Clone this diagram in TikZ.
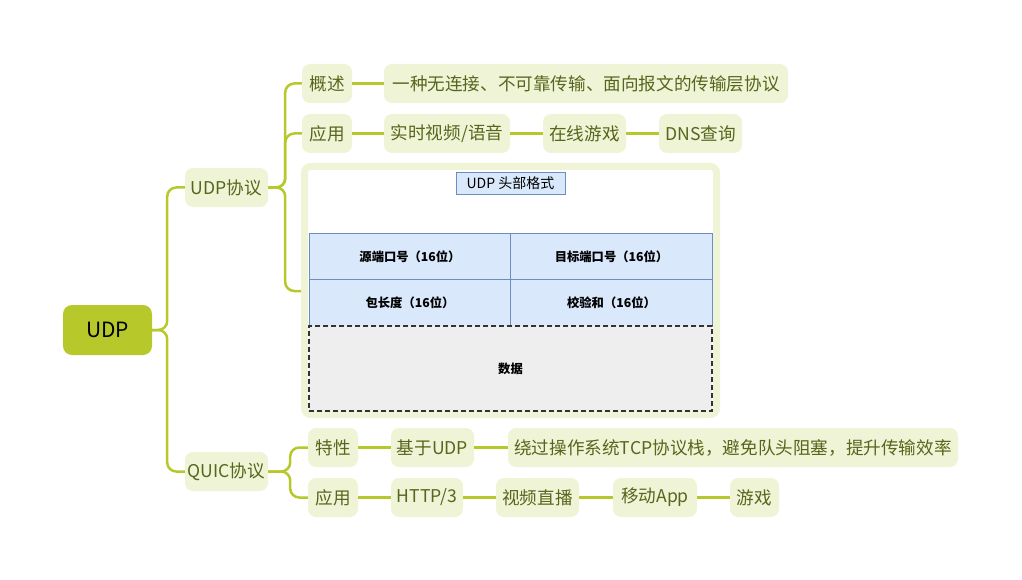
\documentclass[tikz,border=0pt]{standalone}
\usepackage{fontspec}
\setmainfont{Noto Sans CJK SC}
\usetikzlibrary{positioning}
\definecolor{rootc}{HTML}{B7C82B}
\definecolor{leafc}{HTML}{EFF4D6}
\definecolor{leaft}{HTML}{56661C}
\definecolor{cellc}{HTML}{DAE8FC}
\definecolor{celld}{HTML}{6C8EBF}
\definecolor{datac}{HTML}{EEEEEE}
\begin{document}
\begin{tikzpicture}[x=1pt,y=-1pt,
  leaf/.style={fill=leafc,rounded corners=8pt,text=leaft,font=\fontsize{17.6}{20}\selectfont,inner sep=0pt,minimum height=39pt},
  rootn/.style={fill=rootc,rounded corners=9pt,text=black,font=\fontsize{21}{24}\selectfont,inner sep=0pt,minimum width=89pt,minimum height=50pt},
  conn/.style={draw=rootc,line width=2.5pt,rounded corners=9pt},
  cell/.style={draw=celld,fill=cellc,line width=0.9pt,inner sep=0pt,font=\bfseries\fontsize{12.3}{14}\selectfont,minimum height=46.5pt,minimum width=201.5pt}
]
\useasboundingbox (0,0) rectangle (1022,580);
% root
\node[rootn] (root) at (107.5,330) {UDP};
% level 1
\node[leaf,minimum width=83pt] (udpp) at (226.5,187.5) {UDP协议};
\node[leaf,minimum width=83pt] (quic) at (226.5,471.5) {QUIC协议};
% UDP branch
\node[leaf,minimum width=50pt] (gs) at (327,83.5) {概述};
\node[leaf,minimum width=404pt] (gsd) at (586,83.5) {一种无连接、不可靠传输、面向报文的传输层协议};
\node[leaf,minimum width=50pt] (yy1) at (327,133.5) {应用};
\node[leaf,minimum width=126pt] (sp) at (447,133.5) {实时视频/语音};
\node[leaf,minimum width=83pt] (yx) at (584.5,133.5) {在线游戏};
\node[leaf,minimum width=83pt] (dns) at (700.5,133.5) {DNS查询};
% container
\node[draw=leafc,fill=white,line width=7pt,rounded corners=6pt,minimum width=412pt,minimum height=248pt,inner sep=0pt] (box) at (510.5,290.5) {};
\coordinate (boxin) at (301,291);
\node[draw=celld,fill=cellc,line width=0.6pt,inner sep=0pt,minimum width=109pt,minimum height=22pt,font=\fontsize{14}{16}\selectfont] (title) at (510.5,183) {UDP 头部格式};
\node[cell] (c1) at (410,256.5) {源端口号（16位）};
\node[cell] (c2) at (611.5,256.5) {目标端口号（16位）};
\node[cell] (c3) at (410,303) {包长度（16位）};
\node[cell] (c4) at (611.5,303) {校验和（16位）};
\node[draw=black!80,fill=datac,dash pattern=on 5pt off 3pt,line width=1.3pt,inner sep=0pt,minimum width=403pt,minimum height=85pt,font=\bfseries\fontsize{12.3}{14}\selectfont] (data) at (510.5,368.5) {数据};
% QUIC branch
\node[leaf,minimum width=50pt] (tx) at (333,447.5) {特性};
\node[leaf,minimum width=83pt] (jy) at (432.5,447.5) {基于UDP};
\node[leaf,minimum width=450pt] (rg) at (733,447.5) {绕过操作系统TCP协议栈，避免队头阻塞，提升传输效率};
\node[leaf,minimum width=50pt] (yy2) at (333,497.5) {应用};
\node[leaf,minimum width=72pt] (h3) at (427,497.5) {HTTP/3};
\node[leaf,minimum width=83pt] (zb) at (537.5,497.5) {视频直播};
\node[leaf,minimum width=84pt] (app) at (655,497.5) {移动App};
\node[leaf,minimum width=49pt] (game) at (754.5,497.5) {游戏};
% connectors
\draw[conn] (root.east) -- ++(15,0) |- (udpp.west);
\draw[conn] (root.east) -- ++(15,0) |- (quic.west);
\draw[conn] (udpp.east) -- ++(17,0) |- (gs.west);
\draw[conn] (udpp.east) -- ++(17,0) |- (yy1.west);
\draw[conn] (udpp.east) -- ++(17,0) |- (boxin);
\draw[conn] (quic.east) -- ++(22,0) |- (tx.west);
\draw[conn] (quic.east) -- ++(22,0) |- (yy2.west);
\draw[conn] (gs.east) -- (gsd.west);
\draw[conn] (yy1.east) -- (sp.west);
\draw[conn] (sp.east) -- (yx.west);
\draw[conn] (yx.east) -- (dns.west);
\draw[conn] (tx.east) -- (jy.west);
\draw[conn] (jy.east) -- (rg.west);
\draw[conn] (yy2.east) -- (h3.west);
\draw[conn] (h3.east) -- (zb.west);
\draw[conn] (zb.east) -- (app.west);
\draw[conn] (app.east) -- (game.west);
\end{tikzpicture}
\end{document}
